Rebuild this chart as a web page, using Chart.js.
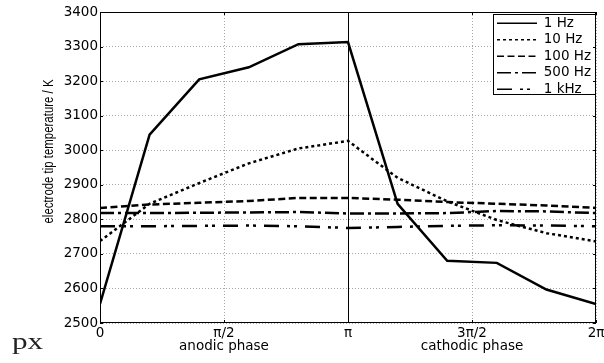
<!DOCTYPE html>
<html>
<head>
<meta charset="utf-8">
<script src="https://cdn.jsdelivr.net/npm/chart.js@4/dist/chart.umd.min.js"></script>
<style>
  html, body { margin: 0; padding: 0; background: #fff; }
  canvas { display: block; }
</style>
</head>
<body>
<canvas id="chart" width="604" height="363"></canvas>
<script>
// Sampling phase of the current cycle, in multiples of pi
const PHASE_OVER_PI = [0, 0.2, 0.4, 0.6, 0.8, 1.0, 1.2, 1.4, 1.6, 1.8, 2.0];

// Electrode tip temperature (K) over one cycle, per frequency
const SERIES_LABELS = ['1 Hz', '10 Hz', '100 Hz', '500 Hz', '1 kHz'];
const TEMP_1HZ   = [2555, 3045, 3205, 3240, 3307, 3313, 2845, 2680, 2674, 2597, 2555];
const TEMP_10HZ  = [2737, 2845, 2905, 2962, 3005, 3027, 2920, 2852, 2798, 2760, 2736];
const TEMP_100HZ = [2833, 2843, 2848, 2853, 2862, 2862, 2857, 2850, 2845, 2840, 2833];
const TEMP_500HZ = [2818, 2818, 2819, 2820, 2821, 2817, 2817, 2818, 2824, 2823, 2818];
const TEMP_1KHZ  = [2780, 2780, 2781, 2782, 2780, 2775, 2778, 2781, 2783, 2782, 2780];

// Axis ticks
const X_TICKS_OVER_PI = [0, 0.5, 1, 1.5, 2];
const X_TICK_LABELS = ['0', ['\u03C0/2', 'anodic phase'], '\u03C0', ['3\u03C0/2', 'cathodic phase'], '2\u03C0'];
const Y_MIN = 2500, Y_MAX = 3400, Y_STEP = 100;
const Y_TITLE = 'electrode tip temperature / K';
const CORNER_TEXT = 'px';

const TICK_FONT = { family: 'DejaVu Sans', size: 13.5, lineHeight: 1.0 };

const LINE_STYLES = [
  { dash: [] },
  { dash: [3, 3] },
  { dash: [7, 3.5] },
  { dash: [14, 4, 3, 4] },
  { dash: [15, 8, 3, 4, 3, 8] }
];

const SERIES = [TEMP_1HZ, TEMP_10HZ, TEMP_100HZ, TEMP_500HZ, TEMP_1KHZ];

const datasets = SERIES.map((vals, i) => ({
  label: SERIES_LABELS[i],
  data: PHASE_OVER_PI.map((p, k) => ({ x: p * Math.PI, y: vals[k] })),
  borderColor: '#000',
  backgroundColor: '#000',
  borderWidth: 2.5,
  borderDash: LINE_STYLES[i].dash,
  borderCapStyle: 'butt',
  borderJoinStyle: 'miter',
  pointRadius: 0,
  tension: 0,
  fill: false
}));

// Box, inward ticks, the pi marker line, and free-standing texts
const framePlugin = {
  id: 'frame',
  afterLayout(chart) {
    const lg = chart.legend;
    const ca = chart.chartArea;
    const right = ca.right - 1, top = ca.top + 2;
    const w = 102, h = 80;
    lg.left = right - w + 1;
    lg.right = right;
    lg.top = top - 0.5;
    lg.bottom = ca.bottom;
    lg.width = lg.right - lg.left;
    lg.height = lg.bottom - lg.top;
    lg._frame = { x: right - w, y: top, w: w, h: h };
    if (!lg._framed) {
      const orig = lg.draw.bind(lg);
      lg.draw = function (area) {
        const ctx = this.ctx, f = this._frame;
        ctx.save();
        ctx.fillStyle = '#fff';
        ctx.fillRect(f.x, f.y, f.w, f.h);
        ctx.strokeStyle = '#000';
        ctx.lineWidth = 1;
        ctx.strokeRect(Math.round(f.x) + 0.5, Math.round(f.y) + 0.5, f.w, f.h);
        ctx.restore();
        orig(area);
      };
      lg._framed = true;
    }
  },
  beforeDatasetsDraw(chart) {
    const { ctx, chartArea: ca, scales: { x } } = chart;
    const px = Math.round(x.getPixelForValue(Math.PI)) + 0.5;
    ctx.save();
    ctx.strokeStyle = '#000';
    ctx.lineWidth = 1;
    ctx.beginPath();
    ctx.moveTo(px, ca.top);
    ctx.lineTo(px, ca.bottom);
    ctx.stroke();
    ctx.restore();
  },
  afterDatasetsDraw(chart) {
    const { ctx, chartArea: ca, scales: { x, y } } = chart;
    const L = 3;
    ctx.save();
    ctx.strokeStyle = '#000';
    ctx.lineWidth = 1;
    ctx.beginPath();
    y.ticks.forEach(t => {
      const py = Math.round(y.getPixelForValue(t.value)) + 0.5;
      ctx.moveTo(ca.left, py); ctx.lineTo(ca.left + L, py);
      ctx.moveTo(ca.right, py); ctx.lineTo(ca.right - L, py);
    });
    x.ticks.forEach(t => {
      const px = Math.round(x.getPixelForValue(t.value)) + 0.5;
      ctx.moveTo(px, ca.bottom); ctx.lineTo(px, ca.bottom - L);
      ctx.moveTo(px, ca.top); ctx.lineTo(px, ca.top + L);
    });
    ctx.stroke();
    ctx.strokeRect(Math.round(ca.left) + 0.5, Math.round(ca.top) + 0.5,
                   Math.round(ca.right - ca.left) - 1, Math.round(ca.bottom - ca.top) - 1);
    ctx.restore();
  },
  afterDraw(chart) {
    const { ctx, chartArea: ca } = chart;
    ctx.save();
    // rotated y-axis title
    ctx.translate(53, (ca.top + ca.bottom) / 2 - 16);
    ctx.rotate(-Math.PI / 2);
    ctx.fillStyle = '#000';
    ctx.font = '14px "Liberation Sans"';
    ctx.textAlign = 'center';
    ctx.textBaseline = 'alphabetic';
    ctx.fillText(Y_TITLE, 0, 0, 144);
    ctx.restore();

    ctx.save();
    ctx.translate(12, 349);
    ctx.scale(1.3, 1);
    ctx.fillStyle = '#222';
    ctx.font = '24px "Liberation Serif"';
    ctx.textAlign = 'left';
    ctx.textBaseline = 'alphabetic';
    ctx.fillText(CORNER_TEXT, 0, 0);
    ctx.restore();
  }
};

new Chart(document.getElementById('chart'), {
  type: 'line',
  data: { datasets },
  options: {
    responsive: false,
    animation: false,
    events: [],
    layout: { padding: { left: 0, top: 12, right: 8, bottom: 0 } },
    scales: {
      x: {
        type: 'linear',
        min: 0,
        max: 2 * Math.PI,
        afterBuildTicks(scale) {
          scale.ticks = X_TICKS_OVER_PI.map(v => ({ value: v * Math.PI }));
        },
        afterFit(scale) {
          scale.height = 40;
          scale.paddingLeft = 0;
          scale.paddingRight = 0;
        },
        ticks: {
          autoSkip: false,
          maxRotation: 0,
          minRotation: 0,
          padding: 3.5,
          color: '#000',
          font: TICK_FONT,
          callback: (value, index) => X_TICK_LABELS[index]
        },
        grid: { color: '#a8a8a8', lineWidth: 1, drawTicks: false },
        border: { display: false, dash: [1, 2] }
      },
      y: {
        type: 'linear',
        min: Y_MIN,
        max: Y_MAX,
        afterFit(scale) {
          scale.width = 100;
          scale.paddingTop = 0;
          scale.paddingBottom = 0;
        },
        ticks: {
          stepSize: Y_STEP,
          padding: 2,
          color: '#000',
          font: TICK_FONT,
          callback: value => String(value)
        },
        grid: { color: '#a8a8a8', lineWidth: 1, drawTicks: false },
        border: { display: false, dash: [1, 2] }
      }
    },
    plugins: {
      tooltip: { enabled: false },
      legend: {
        position: 'chartArea',
        align: 'start',
        labels: {
          usePointStyle: true,
          pointStyle: 'line',
          pointStyleWidth: 40,
          padding: 3,
          color: '#000',
          font: { family: 'DejaVu Sans', size: 13.5 },
          generateLabels(chart) {
            const items = Chart.defaults.plugins.legend.labels.generateLabels(chart);
            items.forEach(it => {
              const ds = chart.data.datasets[it.datasetIndex];
              it.lineWidth = 1.5;
              it.lineDash = ds.borderDash;
              it.strokeStyle = '#000';
              it.fillStyle = '#000';
              it.pointStyle = 'line';
            });
            return items;
          }
        }
      }
    }
  },
  plugins: [framePlugin]
});
</script>
</body>
</html>
